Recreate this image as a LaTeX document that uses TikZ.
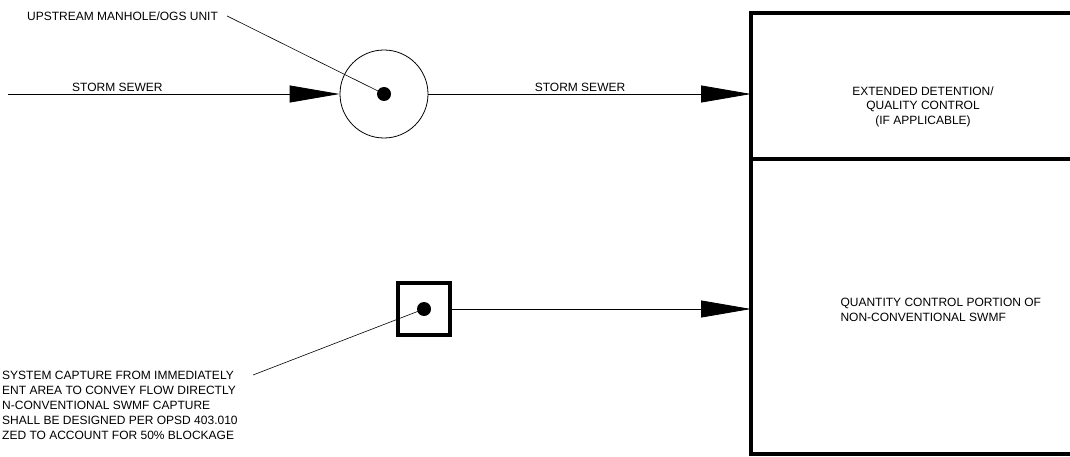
\documentclass[tikz,border=0pt]{standalone}
\usepackage{fontspec}
\setmainfont{Liberation Sans}
\usetikzlibrary{positioning, arrows.meta}

\begin{document}
\begin{tikzpicture}[
  x=1pt, y=-1pt,
  font=\fontsize{12}{15}\selectfont,
  pipe/.style={draw, line width=0.8pt},
  flow/.style={pipe, -{Triangle[length=50pt, width=17pt]}},
  leader/.style={draw, line width=0.6pt},
  swmfbox/.style={draw, line width=4.5pt, outer sep=0pt, minimum width=344pt, inner sep=0pt},
  dotmark/.style={circle, fill, inner sep=0pt, minimum size=14pt},
  pipelab/.style={above, inner sep=2pt}
]
\useasboundingbox (0,0) rectangle (1070,457);
\clip (0,0) rectangle (1070,457);

% Right: non-conventional SWMF block
\node[swmfbox, minimum height=146pt] (detention) at (923,86) {};
\node[swmfbox, minimum height=295pt] (quantity) at (923,306.5) {};
\node[align=center, font=\fontsize{12}{14.5}\selectfont] (detlabel) at (923,106.5) {EXTENDED DETENTION/\\QUALITY CONTROL\\(IF APPLICABLE)};
\node[align=left, anchor=west] (qtylabel) at (837,310) {QUANTITY CONTROL PORTION OF\\NON-CONVENTIONAL SWMF};

% Upstream manhole / OGS unit
\node[circle, draw, line width=0.8pt, minimum size=88pt, inner sep=0pt] (manhole) at (384,94) {};
\node[dotmark] (mhdot) at (manhole.center) {};
\node[anchor=west, inner sep=0pt] (mhlabel) at (27,16) {UPSTREAM MANHOLE/OGS UNIT};

% Minor system capture (catch basin)
\node[draw, line width=3.5pt, minimum size=52pt, inner sep=0pt] (capture) at (424,309) {};
\node[dotmark] (cbdot) at (capture.center) {};
\node[anchor=north west, align=left, inner sep=0pt] (note) at (2,371) {SYSTEM CAPTURE FROM IMMEDIATELY\\ENT AREA TO CONVEY FLOW DIRECTLY\\N-CONVENTIONAL SWMF CAPTURE\\SHALL BE DESIGNED PER OPSD 403.010\\ZED TO ACCOUNT FOR 50\% BLOCKAGE};
\coordinate (inlet) at (8,94);
\coordinate (noteend) at (253,375);

% Edges
\draw[flow] (inlet) -- node[pipelab, pos=0.33] {STORM SEWER} (manhole.west);
\draw[flow] (manhole.east) -- node[pipelab, pos=0.47] {STORM SEWER} (manhole -| detention.west);
\draw[flow] (capture.east) -- (capture -| quantity.west);
\draw[leader] ([xshift=9pt]mhlabel.east) -- (mhdot.center);
\draw[leader] (noteend) -- (cbdot.center);
\end{tikzpicture}
\end{document}
